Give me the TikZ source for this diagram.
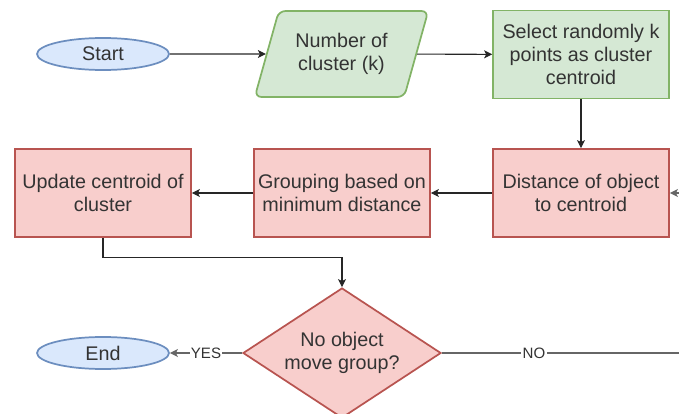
\documentclass[tikz,border=0pt]{standalone}
\usepackage{fontspec}
\setmainfont{Liberation Sans}
\usetikzlibrary{shapes.geometric,arrows.meta}

\definecolor{blueFill}{HTML}{DAE8FC}
\definecolor{blueLine}{HTML}{6C8EBF}
\definecolor{greenFill}{HTML}{D5E8D4}
\definecolor{greenLine}{HTML}{82B366}
\definecolor{redFill}{HTML}{F8CECC}
\definecolor{redLine}{HTML}{B85450}
\definecolor{textCol}{HTML}{333333}

\begin{document}
\begin{tikzpicture}[x=0.75pt,y=-0.75pt,
  font=\fontsize{14.8}{17.4}\selectfont,
  terminal/.style={ellipse,draw=blueLine,fill=blueFill,line width=1.3pt,minimum width=99pt,minimum height=24pt,inner sep=0pt,text=textCol},
  inputbox/.style={trapezium,trapezium left angle=67,trapezium right angle=113,trapezium stretches=true,rounded corners=5pt,draw=greenLine,fill=greenFill,line width=1.3pt,minimum width=131pt,minimum height=64.5pt,inner sep=0pt,align=center,text=textCol},
  greenbox/.style={rectangle,draw=greenLine,fill=greenFill,line width=1.3pt,minimum width=132pt,minimum height=66pt,inner sep=0pt,align=center,text=textCol},
  redbox/.style={rectangle,draw=redLine,fill=redFill,line width=1.3pt,minimum width=132pt,minimum height=66pt,inner sep=0pt,align=center,text=textCol},
  decision/.style={diamond,aspect=1.52,draw=redLine,fill=redFill,line width=1.3pt,minimum width=148.5pt,minimum height=97.5pt,inner sep=0pt,align=center,text=textCol},
  flow/.style={-{Stealth[length=6pt,width=6pt,inset=1.5pt]},line width=0.8pt,color=black!85},
  answer/.style={flow,color=black!60,line width=1.1pt},
  tag/.style={fill=white,inner sep=1pt,text=textCol,font=\fontsize{11.3}{13}\selectfont}]

\useasboundingbox (0,0) rectangle (679,414);
\clip (0,0) rectangle (679,414);

%first row
\node[terminal] (start) at (103,54) {Start};
\node[inputbox] (number) at (341.5,54) {Number of\\cluster (k)};
\node[greenbox] (select) at (581,54.5) {Select randomly k\\points as cluster\\centroid};

%second row
\node[redbox] (distance) at (581,193) {Distance of object\\to centroid};
\node[redbox] (grouping) at (342,193) {Grouping based on\\minimum distance};
\node[redbox] (update) at (103,193) {Update centroid of\\cluster};

%third row
\node[decision] (check) at (342,353) {No object\\move group?};
\node[terminal] (end) at (103,353) {End};

%loop corner outside the picture
\coordinate (loop) at (705,353);

\draw[flow] (start) -- (number);
\draw[flow] (number) -- (select);
\draw[flow] (select) -- (distance);
\draw[flow] (distance) -- (grouping);
\draw[flow] (grouping) -- (update);
\draw[flow] (update.south) -- ++(0,20) -| (check.north);

%yes and no branches
\draw[answer] (check.west) -- (end.east) node[tag,midway]{YES};
\draw[answer] (check.east) -- (loop) node[tag,pos=0.35]{NO} |- (distance.east);
\end{tikzpicture}
\end{document}
